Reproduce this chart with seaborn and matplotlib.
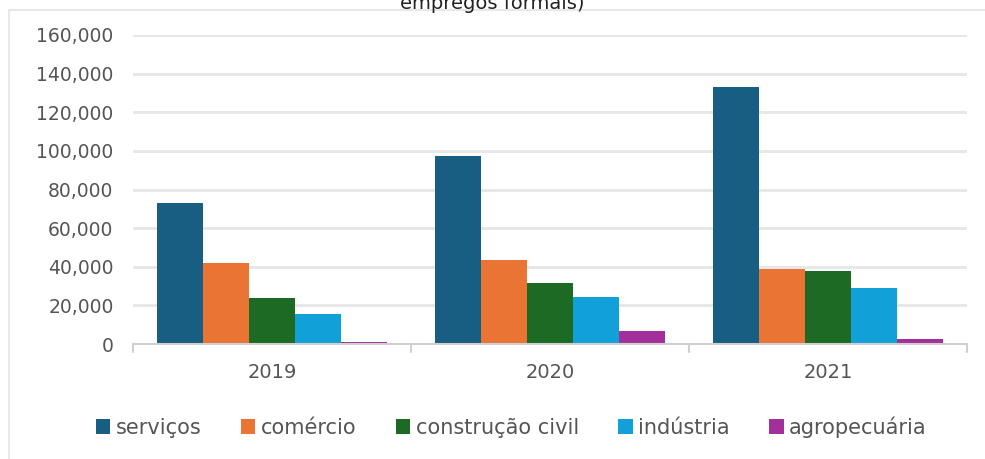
import matplotlib
matplotlib.use("Agg")
import matplotlib.pyplot as plt
import seaborn as sns
import pandas as pd
from matplotlib.patches import Rectangle, Patch
from matplotlib.ticker import FuncFormatter, FixedLocator

years = ["2019", "2020", "2021"]
sectors = ["serviços", "comércio", "construção civil", "indústria", "agropecuária"]
servicos = [73000, 97400, 133100]
comercio = [42000, 43500, 38900]
construcao = [23800, 31600, 37900]
industria = [15500, 24300, 29000]
agropecuaria = [1000, 6700, 2600]
colors = ["#175e82", "#e97434", "#1d6a25", "#11a0d8", "#a3309a"]
yticks = [0, 20000, 40000, 60000, 80000, 100000, 120000, 140000, 160000]

rows = []
for sec, vals in zip(sectors, [servicos, comercio, construcao, industria, agropecuaria]):
    for y, v in zip(years, vals):
        rows.append({"ano": y, "setor": sec, "valor": v})
df = pd.DataFrame(rows)

sns.set_style("white")
plt.rcParams["font.family"] = ["DejaVu Sans"]

W, H = 985, 459
fig = plt.figure(figsize=(W / 100, H / 100), dpi=100)
ax = fig.add_axes([133 / W, (H - 344) / H, (967 - 133) / W, (344 - 35) / H])

sns.barplot(data=df, x="ano", y="valor", hue="setor", order=years,
            hue_order=sectors, palette=colors, width=0.83, saturation=1,
            ax=ax, legend=False, linewidth=0)

ax.set_ylim(0, 160000)
ax.set_xlim(-0.5, 2.5)
ax.yaxis.set_major_locator(FixedLocator(yticks))
ax.yaxis.set_major_formatter(FuncFormatter(lambda v, p: f"{int(v):,}"))
ax.set_axisbelow(True)
ax.grid(axis="y", color="#e6e6e6", linewidth=2)
for s in ["top", "right", "left"]:
    ax.spines[s].set_visible(False)
ax.spines["bottom"].set_color("#d0d0d0")
ax.spines["bottom"].set_linewidth(1.5)
ax.set_xlabel("")
ax.set_ylabel("")
ax.tick_params(axis="y", length=0, pad=14, labelsize=13.5, labelcolor="#555555")
ax.tick_params(axis="x", length=0, pad=14, labelsize=14, labelcolor="#555555")

# group boundary tick marks
for xb in [-0.5, 0.5, 1.5, 2.5]:
    ax.plot([xb, xb], [0, -0.025], transform=ax.get_xaxis_transform(),
            color="#d0d0d0", linewidth=1.5, clip_on=False)

# outer frame
fig.patches.append(Rectangle((9 / W, -0.1), 1.2, 1 - 10 / H + 0.1,
                             transform=fig.transFigure, fill=False,
                             edgecolor="#e8e8e8", linewidth=1.5))

fig.text(0.5, 1 - 9 / H, "empregos formais)", ha="center", va="baseline",
         fontsize=14, color="#222222")

handles = [Patch(facecolor=c, edgecolor="none") for c in colors]
fig.legend(handles, sectors, loc="center", bbox_to_anchor=(0.519, 1 - 427 / H),
           ncol=5, frameon=False, fontsize=15, handlelength=0.7,
           handleheight=0.7, handletextpad=0.25, columnspacing=1.9,
           labelcolor="#555555")

fig.savefig("out.png", dpi=100, facecolor="white")
